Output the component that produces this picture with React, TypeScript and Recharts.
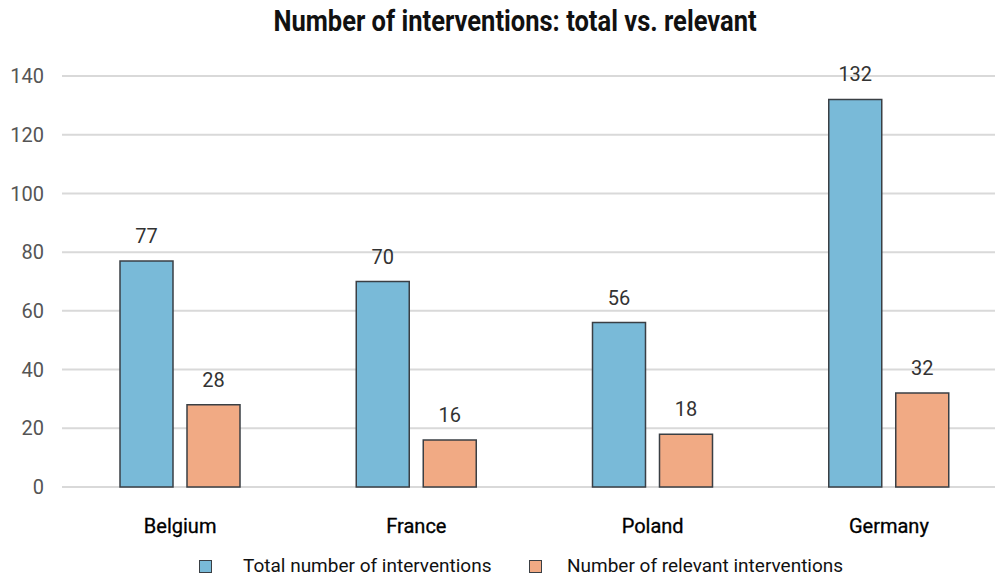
import { Bar, BarChart, CartesianGrid, LabelList, Legend, XAxis, YAxis } from "recharts";

const countries = ["Belgium", "France", "Poland", "Germany"];
const totalInterventions = [77, 70, 56, 132];
const relevantInterventions = [28, 16, 18, 32];
const yTicks = [0, 20, 40, 60, 80, 100, 120, 140];

const FONT = "Roboto, 'DejaVu Sans', sans-serif";
const BLUE = "#79bad8";
const ORANGE = "#f1aa84";
const EDGE = "#3a3f44";

const rows = countries.map((country, i) => ({
  country,
  total: totalInterventions[i],
  relevant: relevantInterventions[i],
}));

const legendItems = [
  { label: "Total number of interventions", color: BLUE, x: 199, textX: 243 },
  { label: "Number of relevant interventions", color: ORANGE, x: 529, textX: 567 },
];

function LegendRow() {
  return (
    <div style={{ position: "relative", width: 995, height: 26, fontFamily: FONT, fontSize: 19, color: "#111" }}>
      {legendItems.map((it) => (
        <div key={it.label}>
          <div
            style={{
              position: "absolute",
              left: it.x,
              top: 12,
              width: 11,
              height: 11,
              background: it.color,
              border: `1px solid ${EDGE}`,
            }}
          />
          <div style={{ position: "absolute", left: it.textX, top: 6, whiteSpace: "nowrap" }}>{it.label}</div>
        </div>
      ))}
    </div>
  );
}

export default function App() {
  return (
    <div style={{ position: "absolute", left: 0, top: 0, width: 995, height: 579, overflow: "hidden", background: "#fff" }}>
      <div
        style={{
          position: "absolute",
          top: 4,
          left: 0,
          width: 1030,
          textAlign: "center",
          fontFamily: FONT,
          fontWeight: 700,
          fontSize: 29,
          color: "#111",
          transform: "scaleX(0.88)",
          transformOrigin: "515px 0",
        }}
      >
        Number of interventions: total vs. relevant
      </div>
      <BarChart
        width={1007}
        height={579}
        data={rows}
        margin={{ top: 76, right: 0, bottom: 52, left: 0 }}
        barSize={53}
        barGap={14}
      >
        <CartesianGrid vertical={false} stroke="#d9d9d9" strokeWidth={2} />
        <XAxis
          dataKey="country"
          height={40}
          axisLine={false}
          tickLine={false}
          tickMargin={26}
          tick={{ fontFamily: FONT, fontSize: 20, fill: "#000", stroke: "#000", strokeWidth: 0.3 }}
        />
        <YAxis
          width={62}
          domain={[0, 140]}
          ticks={yTicks}
          axisLine={false}
          tickLine={false}
          tickMargin={12}
          tick={{ fontFamily: FONT, fontSize: 20, fill: "#555" }}
        />
        <Legend
          layout="horizontal"
          verticalAlign="middle"
          align="center"
          wrapperStyle={{ top: 548, left: 0, width: 995 }}
          content={() => <LegendRow />}
        />
        <Bar dataKey="total" name="Total number of interventions" fill={BLUE} stroke={EDGE} strokeWidth={1.5} isAnimationActive={false}>
          <LabelList dataKey="total" position="top" offset={18} style={{ fontFamily: FONT, fontSize: 20, fill: "#333" }} />
        </Bar>
        <Bar dataKey="relevant" name="Number of relevant interventions" fill={ORANGE} stroke={EDGE} strokeWidth={1.5} isAnimationActive={false}>
          <LabelList dataKey="relevant" position="top" offset={18} style={{ fontFamily: FONT, fontSize: 20, fill: "#333" }} />
        </Bar>
      </BarChart>
    </div>
  );
}
